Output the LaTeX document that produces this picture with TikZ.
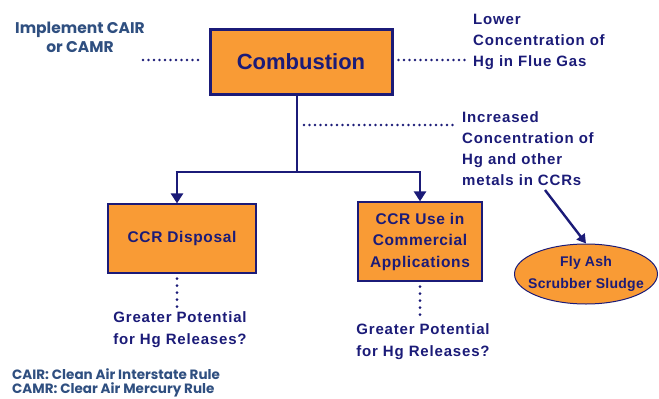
\documentclass[tikz,border=0pt]{standalone}
\usepackage{fontspec}
\setmainfont{Liberation Sans}
\newfontfamily\gothic{Poppins}
\usetikzlibrary{arrows.meta,shapes.geometric}
\definecolor{navy}{HTML}{1B1B78}
\definecolor{steel}{HTML}{2F4F80}
\definecolor{boxorange}{HTML}{F99B35}
\tikzset{
  box/.style={draw=navy, fill=boxorange, line width=1.2pt, inner sep=0pt, align=center, text=navy, font=\bfseries\fontsize{15.5}{21.5}\selectfont\addfontfeature{LetterSpace=4}},
  lbl/.style={text=navy, inner sep=0pt, font=\bfseries\fontsize{15}{21}\selectfont\addfontfeature{LetterSpace=5.5}},
  note/.style={text=steel, inner sep=0pt, font=\gothic\bfseries\fontsize{15.5}{19}\selectfont},
  dots/.style={draw=navy, line width=2.8pt, line cap=round, dash pattern=on 0pt off 5.5pt},
  vdots/.style={draw=navy, line width=3pt, line cap=round, dash pattern=on 0pt off 7pt},
  flow/.style={draw=navy, line width=2.6pt},
  tip/.style={-{Triangle[length=10pt,width=12pt]}},
}
\begin{document}
\begin{tikzpicture}[x=1pt,y=-1pt]
\path[use as bounding box, fill=white] (0,0) rectangle (659,399);
% main box
\node[box, line width=3pt, minimum width=182pt, minimum height=65pt, font=\bfseries\fontsize{22}{26}\selectfont] (comb) at (301,62) {Combustion};
\node[box, minimum width=148pt, minimum height=69pt] (disp) at (182,238.5) {CCR Disposal};
\node[box, minimum width=124pt, minimum height=79pt] (use) at (420,241.5) {CCR Use in\\Commercial\\Applications};
\node[box, ellipse, line width=1pt, inner xsep=-9.5pt, inner ysep=0pt, minimum width=143pt, minimum height=60pt, font=\bfseries\fontsize{14}{22}\selectfont\addfontfeature{LetterSpace=2}] (ash) at (586,274) {Fly Ash\\Scrubber Sludge};
% texts
\node[note, align=center, anchor=north] (impl) at (80,22) {Implement CAIR\\or CAMR};
\node[lbl, align=left, anchor=north west] (lower) at (473,14) {Lower\\Concentration of\\Hg in Flue Gas};
\node[lbl, align=left, anchor=north west] (incr) at (462,111) {Increased\\Concentration of\\Hg and other\\metals in CCRs};
\node[lbl, align=center, anchor=north, font=\bfseries\fontsize{15}{22.5}\selectfont\addfontfeature{LetterSpace=5.5}] (g1) at (180,311) {Greater Potential\\for Hg Releases?};
\node[lbl, align=center, anchor=north, font=\bfseries\fontsize{15}{22.5}\selectfont\addfontfeature{LetterSpace=5.5}] (g2) at (423,323) {Greater Potential\\for Hg Releases?};
\node[note, align=left, anchor=north west, font=\gothic\bfseries\fontsize{13.5}{14}\selectfont] (foot) at (12,368) {CAIR: Clean Air Interstate Rule\\CAMR: Clear Air Mercury Rule};
% coordinates
\coordinate (jC) at (297,172);
\coordinate (jL) at (177,172);
\coordinate (jR) at (420,172);
\coordinate (dStart) at (143,60);
\coordinate (dMid) at (304,125);
\coordinate (aS) at (545,190);
% tree connectors
\draw[flow] (comb.south -| jC) -- (jC);
\draw[flow] ([xshift=-1.3pt]jL) -- ([xshift=1.3pt]jR);
\draw[flow, tip] (jL) -- (jL |- disp.north);
\draw[flow, tip] (jR) -- (jR |- use.north);
\draw[flow, line width=2.4pt, -{Triangle[length=9pt,width=10pt]}] (aS) -- (ash.north);
% dotted connectors
\draw[dots] (dStart) -- ([xshift=-10pt]comb.west |- dStart);
\draw[dots] ([xshift=5pt]comb.east |- dStart) -- ([xshift=-4pt]lower.west |- dStart);
\draw[dots] (dMid) -- ([xshift=-8pt]incr.west |- dMid);
\draw[vdots] ([yshift=-5pt]disp.south -| jL) -- ([yshift=3pt]g1.north -| jL);
\draw[vdots] ([yshift=-5pt]use.south) -- ([yshift=3pt]use.south |- g2.north);
\end{tikzpicture}
\end{document}
